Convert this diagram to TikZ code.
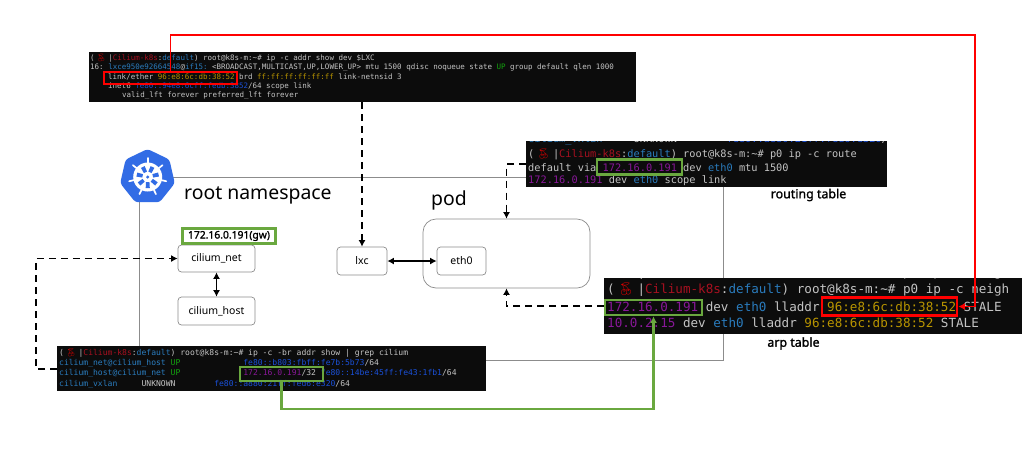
\documentclass[tikz,border=0pt]{standalone}
\usepackage{fontspec}
\usetikzlibrary{arrows.meta,shapes.geometric}
\setmainfont{Noto Sans}
\setmonofont{DejaVu Sans Mono}
\newfontfamily\emofont{Noto Emoji}
\newfontfamily\capfont[FakeBold=1.4]{Noto Sans}
\definecolor{tbg}{HTML}{0C0C0C}
\definecolor{tfg}{HTML}{C4C4C4}
\definecolor{tred}{HTML}{A81020}
\definecolor{tblue}{HTML}{2A7CBE}
\definecolor{tdeep}{HTML}{1A50D8}
\definecolor{tpur}{HTML}{881798}
\definecolor{tyel}{HTML}{B89400}
\definecolor{tgrn}{HTML}{13A10E}
\definecolor{boxgreen}{HTML}{6AA83F}
\definecolor{k8s}{HTML}{326CE5}
\definecolor{lineg}{HTML}{8C8C8C}
\newcommand{\cherrycell}{\makebox[1.806em][c]{\textcolor{red!85!black}{\emofont\char"1F352}}}
\newcommand{\promptA}{(\cherrycell\textcolor{tfg}{|}\textcolor{tred}{Cilium-k8s}:\textcolor{tblue}{default}) root@k8s-m:\textasciitilde\# }
\newcommand{\sz}[1]{\fontsize{#1}{#1}\selectfont\ttfamily}
\tikzset{
  termbg/.style={fill=tbg,draw=none,inner sep=0pt,anchor=north west},
  tline/.style={anchor=west,inner sep=0pt,text=tfg},
  netbox/.style={draw=lineg,fill=white,rounded corners=3.5pt,line width=.7pt,inner sep=0pt,font=\fontsize{10.5}{12}\selectfont},
  gbox/.style={draw=boxgreen,line width=2.7pt,inner sep=0pt,fill=none},
  rbox/.style={draw=red,line width=2.7pt,inner sep=0pt,fill=none},
  dashconn/.style={line width=1.9pt,dash pattern=on 7pt off 5pt,-{Latex[length=6.5pt,width=7pt]}},
  dblconn/.style={line width=1.9pt,{Latex[length=6.5pt,width=7pt]}-{Latex[length=6.5pt,width=7pt]}},
  redconn/.style={draw=red,line width=1.9pt,-{Latex[length=6.5pt,width=7pt]}},
  greenconn/.style={draw=boxgreen,line width=2.2pt,-{Latex[length=6.5pt,width=7pt]}},
  caption/.style={inner sep=0pt,font=\fontsize{12.4}{14}\selectfont\capfont},
  bigcap/.style={inner sep=0pt,font=\fontsize{19.4}{22}\selectfont}
}
\begin{document}
\begin{tikzpicture}[x=1pt,y=-1pt]
\useasboundingbox (0,0) rectangle (1022,451);
\fill[white] (0,0) rectangle (1022,451);

% root namespace frame
\node[draw=lineg,line width=.8pt,minimum width=584pt,minimum height=183pt,inner sep=0pt,anchor=north west] (rootframe) at (139,177) {};

% logo
\node[regular polygon,regular polygon sides=7,fill=k8s,rounded corners=3pt,minimum size=56pt,inner sep=0pt] (logo) at (147.5,177) {};
\begin{scope}[shift={(147.7,177)}]
  \fill[white] (0,0) circle (14.5);
  \foreach \k in {0,...,6}{
    \draw[white,line width=1.7pt,line cap=round] (270+\k*51.43:12) -- (270+\k*51.43:19);
    \fill[k8s] (270+\k*51.43+7:5.5) -- (270+\k*51.43+44:5.5) -- (270+\k*51.43+36:11.3) -- (270+\k*51.43+15:11.3) -- cycle;
  }
  \fill[k8s] (0,0) circle (1.7);
\end{scope}

% terminal backgrounds
\node[termbg,minimum width=547pt,minimum height=50pt] (t1) at (89,52) {};
\node[termbg,minimum width=361pt,minimum height=46pt] (t2) at (526,141) {};
\node[termbg,minimum width=418pt,minimum height=56pt] (t3) at (604,278) {};
\node[termbg,minimum width=429pt,minimum height=45pt] (t4) at (57,346) {};

% terminal 1
\node[tline,font=\sz{7.5}] (t1a) at (90,58) {\promptA ip -c addr show dev \$LXC};
\node[tline,font=\sz{7.5}] (t1b) at (90,67.5) {16: \textcolor{tblue}{lxce950e92664548}@\textcolor{tblue}{if15:} <BROADCAST,MULTICAST,UP,LOWER\_UP> mtu 1500 qdisc noqueue state \textcolor{tgrn}{UP} group default qlen 1000};
\node[tline,font=\sz{7.5}] (t1c) at (108,77) {link/ether \textcolor{tyel}{96:e8:6c:db:38:52} brd \textcolor{tyel}{ff:ff:ff:ff:ff:ff} link-netnsid 3};
\node[tline,font=\sz{7.5}] (t1d) at (108,86.5) {inet6 \textcolor{tdeep}{fe80::94e8:6cff:fedb:3852}/64 scope link};
\node[tline,font=\sz{7.5}] (t1e) at (122,96) {valid\_lft forever preferred\_lft forever};

% terminal 2
\begin{scope}
  \clip (526,141) rectangle (887,187);
  \node[tline,font=\sz{10.3}] (t2z) at (528,140) {\textcolor{tblue}{cilium\_vxlan}~~~~~UNKNOWN~~~~~~~~\textcolor{tdeep}{fe80::a880:21ff:fed6:e320}/64};
\end{scope}
\node[tline,font=\sz{10.3}] (t2a) at (528,154) {\promptA p0 ip -c route};
\node[tline,font=\sz{10.3}] (t2b) at (528,167.5) {default via \textcolor{tpur}{172.16.0.191} dev \textcolor{tblue}{eth0} mtu 1500};
\node[tline,font=\sz{10.3}] (t2c) at (528,181) {\textcolor{tpur}{172.16.0.191} dev \textcolor{tblue}{eth0} scope link};

% terminal 3
\begin{scope}
  \clip (604,278) rectangle (1022,334);
  \node[tline,font=\sz{12.6}] (t3z) at (607,273) {\promptA p0 ip -c neigh};
\end{scope}
\node[tline,font=\sz{12.6}] (t3a) at (607,290) {\promptA p0 ip -c neigh};
\node[tline,font=\sz{12.6}] (t3b) at (607,307) {\textcolor{tpur}{172.16.0.191} dev \textcolor{tblue}{eth0} lladdr \textcolor{tyel}{96:e8:6c:db:38:52} STALE};
\node[tline,font=\sz{12.6}] (t3c) at (607,323) {\textcolor{tpur}{10.0.2.15} dev \textcolor{tblue}{eth0} lladdr \textcolor{tyel}{96:e8:6c:db:38:52} STALE};

% terminal 4
\node[tline,font=\sz{8.05}] (t4a) at (59,352.8) {\promptA ip -c -br addr show | grep cilium};
\node[tline,font=\sz{8.05}] (t4b) at (59,363) {\textcolor{tblue}{cilium\_net@cilium\_host} \textcolor{tgrn}{UP}~~~~~~~~~~~~~\textcolor{tdeep}{fe80::b803:fbff:fe7b:5b73}/64};
\node[tline,font=\sz{8.05}] (t4c) at (59,373.5) {\textcolor{tblue}{cilium\_host@cilium\_net} \textcolor{tgrn}{UP}~~~~~~~~~~~~~\textcolor{tpur}{172.16.0.191}/32 \textcolor{tdeep}{fe80::14be:45ff:fe43:1fb1}/64};
\node[tline,font=\sz{8.05}] (t4d) at (59,384) {\textcolor{tblue}{cilium\_vxlan}~~~~~UNKNOWN~~~~~~~~\textcolor{tdeep}{fe80::a880:21ff:fed6:e320}/64};

% network boxes
\node[netbox,minimum width=77pt,minimum height=27pt] (cnet) at (216.5,258.5) {cilium\_net};
\node[netbox,minimum width=77pt,minimum height=28pt] (chost) at (216.5,311) {cilium\_host};
\node[netbox,minimum width=50pt,minimum height=28pt] (lxc) at (362,261) {lxc};
\node[netbox,minimum width=167pt,minimum height=69pt,rounded corners=13pt] (pod) at (506.5,253.5) {};
\node[netbox,minimum width=49pt,minimum height=28pt] (eth) at (461.5,261) {eth0};

% highlight boxes
\node[gbox,fill=white,minimum width=93pt,minimum height=15pt,font=\fontsize{10.3}{12}\selectfont\capfont] (gwbox) at (229,236) {172.16.0.191(gw)};
\node[rbox,minimum width=133pt,minimum height=12pt] (redA) at (170.5,78) {};
\node[rbox,minimum width=135pt,minimum height=18pt] (redB) at (889.5,306.5) {};
\node[gbox,minimum width=85pt,minimum height=15pt] (gT2) at (639.5,167) {};
\node[gbox,minimum width=97pt,minimum height=15pt] (gT3) at (653.5,307.5) {};
\node[gbox,minimum width=83pt,minimum height=14pt] (gT4) at (281.5,374) {};

% captions
\node[bigcap,anchor=west] (rootlabel) at (184,195) {root namespace};
\node[bigcap,anchor=west] (podlabel) at (431,200) {pod};
\node[caption] (rtlabel) at (808.5,195) {routing table};
\node[caption] (arplabel) at (793.5,343.5) {arp table};

% helper corners
\coordinate (redcorner) at (975,35);
\coordinate (greencorner) at (653.5,409);
\coordinate (leftcorner) at (36,258.5);

% connectors
\draw[dashconn] (lxc.north |- t1.south) -- (lxc.north);
\draw[dashconn] (t2.west) -| (pod.north);
\draw[dashconn] (t3.west) -| (pod.south);
\draw[dashconn] (t4.west) -| (leftcorner) -- (cnet.west);
\draw[dblconn] (cnet.south) -- (chost.north);
\draw[dblconn] (lxc.east) -- (eth.west);
\draw[redconn] (redA.north) |- (redcorner) |- (redB.east);
\draw[greenconn] (gT4.south) |- (greencorner) -- (gT3.south);
\end{tikzpicture}
\end{document}
